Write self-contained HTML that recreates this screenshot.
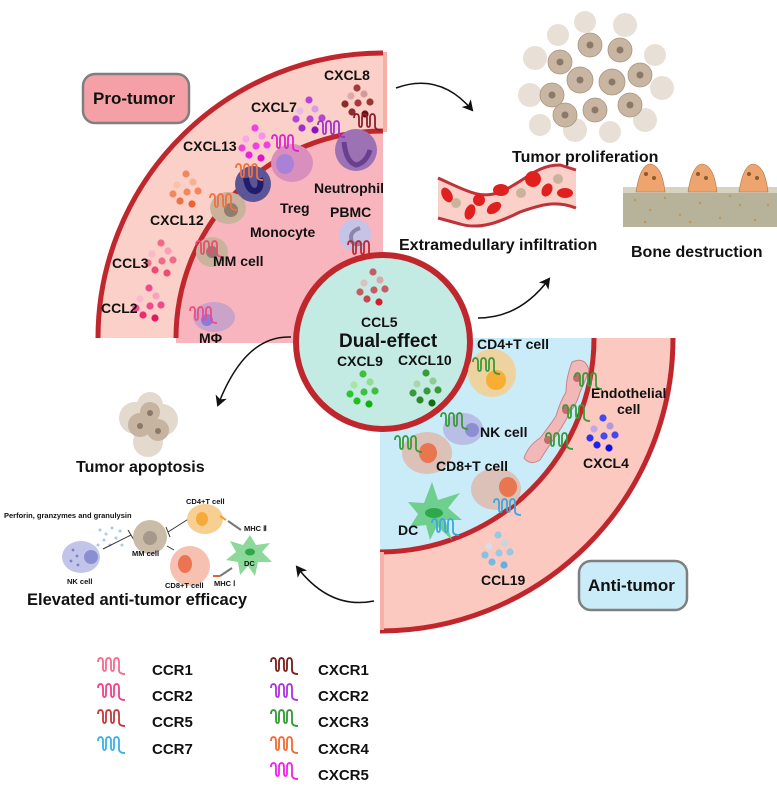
<!DOCTYPE html>
<html><head><meta charset="utf-8"><style>
html,body{margin:0;padding:0;background:#fff}
svg{display:block}
text{font-family:"Liberation Sans",Arial,sans-serif;font-weight:bold;fill:#111}
</style></head><body>
<svg width="777" height="787" viewBox="0 0 777 787" xmlns="http://www.w3.org/2000/svg">
<defs>
<marker id="ah" markerWidth="12" markerHeight="12" refX="9" refY="6" orient="auto" markerUnits="userSpaceOnUse">
<path d="M0,0 L11,6 L0,12 L3,6 Z" fill="#111"/></marker>
<path id="sq" d="M0,4 Q0,0 2.5,0 Q5,0 5,4 V10 Q5,13 6.5,13 Q8,13 8,10 V4 Q8,0 10.5,0 Q13,0 13,4 V10 Q13,13 14.5,13 Q16,13 16,10 V4 Q16,0 18.5,0 Q21,0 21,4 V12 Q21,16 27,16" fill="none" stroke-width="1.8"/>
</defs>

<!-- Pro-tumor quarter -->
<path d="M383,338 L98,338 A285,285 0 0 1 383,53 Z" fill="#fbd0c8"/>
<path d="M383,343 L176,343 L176,338 A207,207 0 0 1 383,131 Z" fill="#f8b5bd"/>
<path d="M98,338 A285,285 0 0 1 383,53" fill="none" stroke="#c0272d" stroke-width="5"/>
<path d="M176,338 A207,207 0 0 1 383,131" fill="none" stroke="#c0272d" stroke-width="5"/>
<rect x="383" y="52" width="4" height="80" fill="#f6b0a8"/>

<!-- Anti-tumor quarter -->
<path d="M380,338 L673,338 A293,293 0 0 1 380,631 Z" fill="#fbc9c0"/>
<path d="M380,338 L594,338 A214,214 0 0 1 380,552 Z" fill="#c9ecf8"/>
<path d="M673,338 A293,293 0 0 1 380,631" fill="none" stroke="#c0272d" stroke-width="5"/>
<path d="M594,338 A214,214 0 0 1 380,552" fill="none" stroke="#c0272d" stroke-width="5"/>
<rect x="380" y="552" width="4" height="78" fill="#f6b0a8"/>

<!-- Central circle -->
<circle cx="383" cy="342" r="87" fill="#c4ebe3" stroke="#c0272d" stroke-width="6"/>

<!-- Boxes -->
<rect x="83" y="74" width="106" height="49" rx="12" fill="#f4a0a6" stroke="#7f7f7f" stroke-width="2.5"/>
<text x="93" y="104" font-size="17">Pro-tumor</text>
<rect x="579" y="561" width="108" height="49" rx="12" fill="#c9ecf8" stroke="#7f7f7f" stroke-width="2.5"/>
<text x="588" y="591" font-size="17">Anti-tumor</text>

<!-- chemokine dot clusters -->
<g>
<g transform="translate(357,88)"><circle r="3.6" fill="#a5393e"/><circle cx="-6" cy="8" r="3.6" fill="#e0a8a8"/><circle cx="7" cy="6" r="3.6" fill="#d49a9a"/><circle cx="-12" cy="16" r="3.6" fill="#8c2b2b"/><circle cx="1" cy="15" r="3.6" fill="#a5393e"/><circle cx="13" cy="14" r="3.6" fill="#9c3434"/><circle cx="-5" cy="24" r="3.6" fill="#8c2b2b"/><circle cx="8" cy="26" r="3.6" fill="#6a0f12"/></g>
<g transform="translate(309,100)"><circle r="3.6" fill="#b844d4"/><circle cx="-9" cy="11" r="3.6" fill="#e8b8ee"/><circle cx="6" cy="9" r="3.6" fill="#d99ce6"/><circle cx="-13" cy="19" r="3.6" fill="#b844d4"/><circle cx="1" cy="19" r="3.6" fill="#b844d4"/><circle cx="13" cy="18" r="3.6" fill="#b844d4"/><circle cx="-7" cy="28" r="3.6" fill="#a030c8"/><circle cx="6" cy="30" r="3.6" fill="#9010c0"/></g>
<g transform="translate(255,128)"><circle r="3.6" fill="#f040e0"/><circle cx="-9" cy="11" r="3.6" fill="#f8a8f0"/><circle cx="7" cy="8" r="3.6" fill="#f890f0"/><circle cx="-13" cy="20" r="3.6" fill="#f040e0"/><circle cx="1" cy="18" r="3.6" fill="#f040e0"/><circle cx="12" cy="17" r="3.6" fill="#f040e0"/><circle cx="-6" cy="27" r="3.6" fill="#f020e0"/><circle cx="6" cy="30" r="3.6" fill="#e010d0"/></g>
<g transform="translate(186,174)"><circle r="3.6" fill="#f5865a"/><circle cx="-9" cy="11" r="3.6" fill="#fbc2aa"/><circle cx="7" cy="8" r="3.6" fill="#f8b090"/><circle cx="-13" cy="20" r="3.6" fill="#f5865a"/><circle cx="1" cy="18" r="3.6" fill="#f5865a"/><circle cx="12" cy="17" r="3.6" fill="#f5865a"/><circle cx="-6" cy="27" r="3.6" fill="#f07040"/><circle cx="6" cy="30" r="3.6" fill="#f06030"/></g>
<g transform="translate(161,243)"><circle r="3.6" fill="#f06a8a"/><circle cx="-9" cy="11" r="3.6" fill="#fbb8c8"/><circle cx="7" cy="8" r="3.6" fill="#f8a0b8"/><circle cx="-13" cy="20" r="3.6" fill="#f06a8a"/><circle cx="1" cy="18" r="3.6" fill="#f06a8a"/><circle cx="12" cy="17" r="3.6" fill="#f06a8a"/><circle cx="-6" cy="27" r="3.6" fill="#f04a74"/><circle cx="6" cy="30" r="3.6" fill="#f04a74"/></g>
<g transform="translate(149,288)"><circle r="3.6" fill="#f04a8a"/><circle cx="-9" cy="11" r="3.6" fill="#fbb8d0"/><circle cx="7" cy="8" r="3.6" fill="#f8a0c0"/><circle cx="-13" cy="20" r="3.6" fill="#f04a8a"/><circle cx="1" cy="18" r="3.6" fill="#f04a8a"/><circle cx="12" cy="17" r="3.6" fill="#f04a8a"/><circle cx="-6" cy="27" r="3.6" fill="#f02a70"/><circle cx="6" cy="30" r="3.6" fill="#e01a60"/></g>
<g transform="translate(373,272)"><circle r="3.6" fill="#c45c62"/><circle cx="-9" cy="11" r="3.6" fill="#dcc0c0"/><circle cx="7" cy="8" r="3.6" fill="#d8a8aa"/><circle cx="-13" cy="20" r="3.6" fill="#c45c62"/><circle cx="1" cy="18" r="3.6" fill="#c45c62"/><circle cx="12" cy="17" r="3.6" fill="#c45c62"/><circle cx="-6" cy="27" r="3.6" fill="#c0484e"/><circle cx="6" cy="30" r="3.6" fill="#d02028"/></g>
<g transform="translate(363,374)"><circle r="3.6" fill="#3ec03e"/><circle cx="-9" cy="11" r="3.6" fill="#a8e4a8"/><circle cx="7" cy="8" r="3.6" fill="#90dc90"/><circle cx="-13" cy="20" r="3.6" fill="#28c828"/><circle cx="1" cy="18" r="3.6" fill="#3ec03e"/><circle cx="12" cy="17" r="3.6" fill="#3ec03e"/><circle cx="-6" cy="27" r="3.6" fill="#20c020"/><circle cx="6" cy="30" r="3.6" fill="#10b010"/></g>
<g transform="translate(426,373)"><circle r="3.6" fill="#3a9a3a"/><circle cx="-9" cy="11" r="3.6" fill="#a8d8a8"/><circle cx="7" cy="8" r="3.6" fill="#90cc90"/><circle cx="-13" cy="20" r="3.6" fill="#3a9a3a"/><circle cx="1" cy="18" r="3.6" fill="#3a9a3a"/><circle cx="12" cy="17" r="3.6" fill="#3a9a3a"/><circle cx="-6" cy="27" r="3.6" fill="#2a8a2a"/><circle cx="6" cy="30" r="3.6" fill="#107010"/></g>
<g transform="translate(603,418)"><circle r="3.6" fill="#4848f0"/><circle cx="-9" cy="11" r="3.6" fill="#c0a8e8"/><circle cx="7" cy="8" r="3.6" fill="#b098e0"/><circle cx="-13" cy="20" r="3.6" fill="#3030f0"/><circle cx="1" cy="18" r="3.6" fill="#4848f0"/><circle cx="12" cy="17" r="3.6" fill="#4848f0"/><circle cx="-6" cy="27" r="3.6" fill="#2020e8"/><circle cx="6" cy="30" r="3.6" fill="#1010e0"/></g>
<g transform="translate(498,535)"><circle r="3.6" fill="#98c8e4"/><circle cx="-9" cy="11" r="3.6" fill="#d8dde6"/><circle cx="7" cy="8" r="3.6" fill="#c8d4e0"/><circle cx="-13" cy="20" r="3.6" fill="#88c0e4"/><circle cx="1" cy="18" r="3.6" fill="#98c8e4"/><circle cx="12" cy="17" r="3.6" fill="#98c8e4"/><circle cx="-6" cy="27" r="3.6" fill="#78b8e4"/><circle cx="6" cy="30" r="3.6" fill="#60b0e4"/></g>
</g>

<!-- Pro-tumor cells -->
<circle cx="356" cy="150" r="21" fill="#9c72b4"/><path d="M344,142 Q346,162 356,165 Q366,163 370,150" fill="none" stroke="#6a3f90" stroke-width="5"/>
<use href="#sq" x="318" y="121" stroke="#a030d0"/><use href="#sq" x="354" y="114" stroke="#8c1f2a"/>
<ellipse cx="292" cy="163" rx="21" ry="19" fill="#d98fbe"/><ellipse cx="285" cy="164" rx="9" ry="10" fill="#a982d8"/>
<use href="#sq" x="272" y="135" stroke="#e020d0"/>
<circle cx="253" cy="184" r="18" fill="#5b5596"/><path d="M246,178 Q248,192 256,191 Q262,189 260,178" fill="none" stroke="#1f1e6e" stroke-width="6"/>
<use href="#sq" x="236" y="164" stroke="#f07040"/>
<circle cx="355" cy="235" r="16" fill="#c6c3e8"/><path d="M360,228 Q348,232 352,242 Q356,246 362,243" fill="none" stroke="#8a86a8" stroke-width="4"/>
<use href="#sq" x="348" y="241" stroke="#c0272d"/>
<ellipse cx="228" cy="208" rx="18" ry="16" fill="#c9b39c"/><circle cx="231" cy="210" r="7" fill="#8f7d6e"/>
<use href="#sq" x="210" y="194" stroke="#f07040"/>
<ellipse cx="212" cy="252" rx="16" ry="15" fill="#c9b39c"/><circle cx="212" cy="252" r="6" fill="#8f7d6e"/>
<use href="#sq" x="196" y="241" stroke="#f04a74"/>
<ellipse cx="214" cy="317" rx="21" ry="15" fill="#c9a4c8"/><circle cx="207" cy="320" r="6" fill="#8b7ae0"/>
<use href="#sq" x="190" y="307" stroke="#f04a8a"/>

<!-- Anti-tumor cells -->
<circle cx="492" cy="373" r="24" fill="#ecd3a0"/><ellipse cx="496" cy="380" rx="10" ry="10" fill="#f9ad33"/>
<use href="#sq" x="473" y="358" stroke="#3a9a3a"/>
<ellipse cx="463" cy="429" rx="20" ry="16" fill="#b8bee6"/><circle cx="472" cy="430" r="7" fill="#8b8fd2"/>
<use href="#sq" x="441" y="413" stroke="#3a9a3a"/>
<ellipse cx="427" cy="453" rx="25" ry="21" fill="#dcc1b8"/><ellipse cx="428" cy="453" rx="9" ry="10" fill="#e8774f"/>
<use href="#sq" x="395" y="436" stroke="#3a9a3a"/>
<ellipse cx="496" cy="489" rx="25" ry="21" fill="#dcc1b8"/><ellipse cx="508" cy="487" rx="9" ry="10" fill="#e8774f"/>
<use href="#sq" x="494" y="499" stroke="#3aa7e0"/>
<path d="M432,482 L438,500 L460,493 L448,508 L462,520 L445,520 L452,540 L437,526 L430,540 L426,525 L410,527 L418,514 L408,502 L424,503 Z" fill="#6fcf8f"/>
<ellipse cx="434" cy="513" rx="9" ry="5" fill="#2fa84c"/>
<use href="#sq" x="432" y="519" stroke="#3aa7e0"/>
<!-- endothelial -->
<path d="M572,362 Q585,356 589,370 Q586,380 580,392 Q578,402 570,412 Q562,428 553,440 Q545,452 540,460 Q530,466 524,458 Q528,446 540,438 Q548,428 556,416 Q560,402 566,392 Q566,378 572,362 Z" fill="#f2b8b8" stroke="#c8848a" stroke-width="1"/>
<circle cx="577" cy="378" r="4" fill="#c46a6a"/><circle cx="566" cy="410" r="4" fill="#c46a6a"/><circle cx="548" cy="440" r="4" fill="#c46a6a"/>
<use href="#sq" x="575" y="373" stroke="#3a9a3a"/><use href="#sq" x="563" y="405" stroke="#3a9a3a"/><use href="#sq" x="546" y="433" stroke="#3a9a3a"/>

<!-- Labels in quarters -->
<g font-size="14">
<text x="324" y="80">CXCL8</text><text x="251" y="112">CXCL7</text><text x="183" y="151">CXCL13</text>
<text x="150" y="225">CXCL12</text><text x="112" y="268">CCL3</text><text x="101" y="313">CCL2</text>
<text x="314" y="193">Neutrophil</text><text x="280" y="213">Treg</text><text x="330" y="217">PBMC</text>
<text x="250" y="237">Monocyte</text><text x="213" y="266">MM cell</text><text x="199" y="343">MΦ</text>
<text x="361" y="327">CCL5</text><text x="337" y="366">CXCL9</text><text x="398" y="365">CXCL10</text>
<text x="477" y="349">CD4+T cell</text><text x="591" y="398">Endothelial</text><text x="617" y="414">cell</text>
<text x="480" y="437">NK cell</text><text x="436" y="471">CD8+T cell</text><text x="583" y="468">CXCL4</text>
<text x="398" y="535">DC</text><text x="481" y="585">CCL19</text>
</g>
<text x="339" y="347" font-size="19">Dual-effect</text>

<!-- Arrows -->
<path d="M396,88 Q440,72 472,110" fill="none" stroke="#111" stroke-width="1.5" marker-end="url(#ah)"/>
<path d="M478,318 Q520,318 549,279" fill="none" stroke="#111" stroke-width="1.5" marker-end="url(#ah)"/>
<path d="M291,337 Q245,335 218,405" fill="none" stroke="#111" stroke-width="1.5" marker-end="url(#ah)"/>
<path d="M374,601 Q330,610 297,567" fill="none" stroke="#111" stroke-width="1.5" marker-end="url(#ah)"/>

<!-- Tumor proliferation -->
<g fill="#e8e0d6">
<circle cx="535" cy="58" r="12"/><circle cx="530" cy="95" r="12"/><circle cx="540" cy="125" r="11"/><circle cx="575" cy="130" r="12"/><circle cx="610" cy="132" r="11"/><circle cx="645" cy="120" r="12"/><circle cx="662" cy="88" r="12"/><circle cx="655" cy="55" r="11"/><circle cx="625" cy="25" r="12"/><circle cx="585" cy="22" r="11"/><circle cx="558" cy="35" r="11"/>
</g>
<g fill="#c8b6a2" stroke="#a8957f" stroke-width="0.8">
<circle cx="560" cy="62" r="12"/><circle cx="590" cy="45" r="12"/><circle cx="620" cy="50" r="12"/><circle cx="640" cy="75" r="12"/><circle cx="552" cy="95" r="12"/><circle cx="580" cy="80" r="13"/><circle cx="612" cy="82" r="13"/><circle cx="630" cy="105" r="12"/><circle cx="595" cy="110" r="12"/><circle cx="565" cy="115" r="12"/>
</g>
<g fill="#8b7868"><circle cx="560" cy="62" r="3.5"/><circle cx="590" cy="45" r="3.5"/><circle cx="620" cy="50" r="3.5"/><circle cx="640" cy="75" r="3.5"/><circle cx="552" cy="95" r="3.5"/><circle cx="580" cy="80" r="3.5"/><circle cx="612" cy="82" r="3.5"/><circle cx="630" cy="105" r="3.5"/><circle cx="595" cy="110" r="3.5"/><circle cx="565" cy="115" r="3.5"/></g>
<text x="512" y="162" font-size="16">Tumor proliferation</text>

<!-- Blood vessel -->
<path d="M438,178 C465,190 480,200 500,192 C525,182 535,165 560,165 L576,170 L576,208 C555,200 540,205 520,212 C500,222 480,230 460,224 L438,218 Z" fill="#fbd0c8"/>
<path d="M438,178 C465,190 480,200 500,192 C525,182 535,165 560,165 L576,170" fill="none" stroke="#c0323a" stroke-width="3"/>
<path d="M576,208 C555,200 540,205 520,212 C500,222 480,230 460,224 L438,218" fill="none" stroke="#c0323a" stroke-width="3"/>
<g fill="#e0201e"><ellipse cx="447" cy="195" rx="5" ry="8" transform="rotate(-30 447 195)"/><ellipse cx="470" cy="212" rx="5" ry="8" transform="rotate(20 470 212)"/><circle cx="479" cy="200" r="6"/><ellipse cx="494" cy="208" rx="8" ry="5" transform="rotate(-35 494 208)"/><ellipse cx="501" cy="190" rx="8" ry="6"/><circle cx="533" cy="179" r="8"/><ellipse cx="547" cy="190" rx="5" ry="7" transform="rotate(30 547 190)"/><ellipse cx="565" cy="193" rx="8" ry="5"/></g>
<circle cx="456" cy="203" r="5" fill="#c9b39c"/><circle cx="521" cy="193" r="5" fill="#c9b39c"/><circle cx="558" cy="179" r="5" fill="#c9b39c"/>
<text x="399" y="250" font-size="16">Extramedullary infiltration</text>

<!-- Bone -->
<rect x="623" y="187" width="154" height="40" fill="#b7b29a"/><rect x="623" y="187" width="154" height="6" fill="#d6d3c2"/>
<g fill="#c0955c"><circle cx="635" cy="200" r="1.2"/><circle cx="650" cy="210" r="1.2"/><circle cx="665" cy="198" r="1.2"/><circle cx="680" cy="215" r="1.2"/><circle cx="700" cy="203" r="1.2"/><circle cx="720" cy="218" r="1.2"/><circle cx="740" cy="205" r="1.2"/><circle cx="755" cy="220" r="1.2"/><circle cx="690" cy="222" r="1.2"/><circle cx="645" cy="222" r="1.2"/><circle cx="730" cy="196" r="1.2"/><circle cx="768" cy="205" r="1.2"/></g>
<g fill="#eea46e" stroke="#b07040" stroke-width="0.6">
<path d="M636,192 Q640,165 650,164 Q662,165 665,192 Z"/><path d="M688,192 Q692,165 702,164 Q714,165 717,192 Z"/><path d="M739,192 Q743,165 753,164 Q765,165 768,192 Z"/></g>
<g fill="#8b5a2b"><circle cx="646" cy="174" r="2"/><circle cx="654" cy="178" r="2"/><circle cx="698" cy="174" r="2"/><circle cx="706" cy="178" r="2"/><circle cx="749" cy="174" r="2"/><circle cx="757" cy="178" r="2"/></g>
<text x="631" y="257" font-size="16">Bone destruction</text>

<!-- Tumor apoptosis -->
<g fill="#e3d9cd"><circle cx="135" cy="418" r="16"/><circle cx="162" cy="420" r="16"/><circle cx="148" cy="442" r="15"/><circle cx="150" cy="405" r="13"/></g>
<g fill="#c6b3a0"><circle cx="140" cy="425" r="12"/><circle cx="158" cy="430" r="11"/><circle cx="150" cy="412" r="10"/></g>
<g fill="#8b7868"><circle cx="140" cy="426" r="3"/><circle cx="158" cy="431" r="3"/><circle cx="150" cy="413" r="3"/></g>
<text x="76" y="472" font-size="16">Tumor apoptosis</text>

<!-- Small diagram -->
<text x="4" y="518" font-size="7.5">Perforin, granzymes and granulysin</text>
<g fill="#a8c8ec"><circle cx="100" cy="530" r="1.5"/><circle cx="106" cy="534" r="1.5"/><circle cx="112" cy="528" r="1.5"/><circle cx="104" cy="540" r="1.5"/><circle cx="110" cy="545" r="1.5"/><circle cx="116" cy="538" r="1.5"/><circle cx="120" cy="531" r="1.5"/><circle cx="122" cy="545" r="1.5"/><circle cx="98" cy="545" r="1.5"/></g>
<ellipse cx="81" cy="557" rx="19" ry="16" fill="#c2c4ea"/><circle cx="91" cy="557" r="7" fill="#8b8fd2"/>
<g fill="#7a7fc8"><circle cx="73" cy="550" r="1.4"/><circle cx="77" cy="556" r="1.4"/><circle cx="71" cy="561" r="1.4"/><circle cx="78" cy="565" r="1.4"/></g>
<text x="67" y="584" font-size="7.5">NK cell</text>
<path d="M103,549 L131,535" stroke="#333" stroke-width="1"/><path d="M128,530 L134,540" stroke="#333" stroke-width="1"/>
<circle cx="150" cy="537" r="17" fill="#cbbcaa"/><circle cx="150" cy="538" r="7" fill="#a6988a"/>
<text x="132" y="556" font-size="7.5">MM cell</text>
<path d="M168,532 L190,518" stroke="#333" stroke-width="1"/><path d="M166,527 L170,537" stroke="#333" stroke-width="1"/>
<path d="M167,546 L174,550" stroke="#333" stroke-width="1"/>
<ellipse cx="205" cy="519" rx="18" ry="15" fill="#f7cf93"/><ellipse cx="202" cy="519" rx="6" ry="7" fill="#f5aa3b"/>
<text x="186" y="504" font-size="7.5">CD4+T cell</text>
<circle cx="190" cy="566" r="20" fill="#f7c1b2"/><ellipse cx="185" cy="564" rx="7" ry="9" fill="#ed7450"/>
<text x="165" y="588" font-size="7.5">CD8+T cell</text>
<path d="M250,535 L256,545 L270,543 L262,552 L272,562 L258,562 L255,576 L248,566 L240,575 L238,562 L226,560 L236,552 L230,541 L243,545 Z" fill="#8cd99a"/>
<ellipse cx="250" cy="552" rx="5" ry="3.5" fill="#2fa84c"/>
<text x="244" y="566" font-size="7.5">DC</text>
<path d="M228,521 L241,530 M220,576 L232,568" stroke="#777" stroke-width="2"/>
<path d="M226,520 L220,516" stroke="#f0a030" stroke-width="2"/><path d="M213,576 L220,576" stroke="#e8602a" stroke-width="2"/>
<text x="244" y="531" font-size="7.5">MHC Ⅱ</text><text x="214" y="586" font-size="7.5">MHC Ⅰ</text>
<text x="27" y="605" font-size="16.5">Elevated anti-tumor efficacy</text>

<!-- Legend -->
<use href="#sq" x="98" y="658" stroke="#f56a8a"/><use href="#sq" x="98" y="684" stroke="#f0408a"/><use href="#sq" x="98" y="710" stroke="#c0383c"/><use href="#sq" x="98" y="737" stroke="#3ab0e8"/>
<use href="#sq" x="271" y="658" stroke="#7a1a1a"/><use href="#sq" x="271" y="684" stroke="#b030e0"/><use href="#sq" x="271" y="710" stroke="#2e9a2e"/><use href="#sq" x="271" y="737" stroke="#f06a30"/><use href="#sq" x="271" y="763" stroke="#f020e8"/>
<g font-size="15">
<text x="152" y="675">CCR1</text><text x="152" y="701">CCR2</text><text x="152" y="727">CCR5</text><text x="152" y="754">CCR7</text>
<text x="318" y="675">CXCR1</text><text x="318" y="701">CXCR2</text><text x="318" y="727">CXCR3</text><text x="318" y="754">CXCR4</text><text x="318" y="780">CXCR5</text>
</g>
</svg>
</body></html>
